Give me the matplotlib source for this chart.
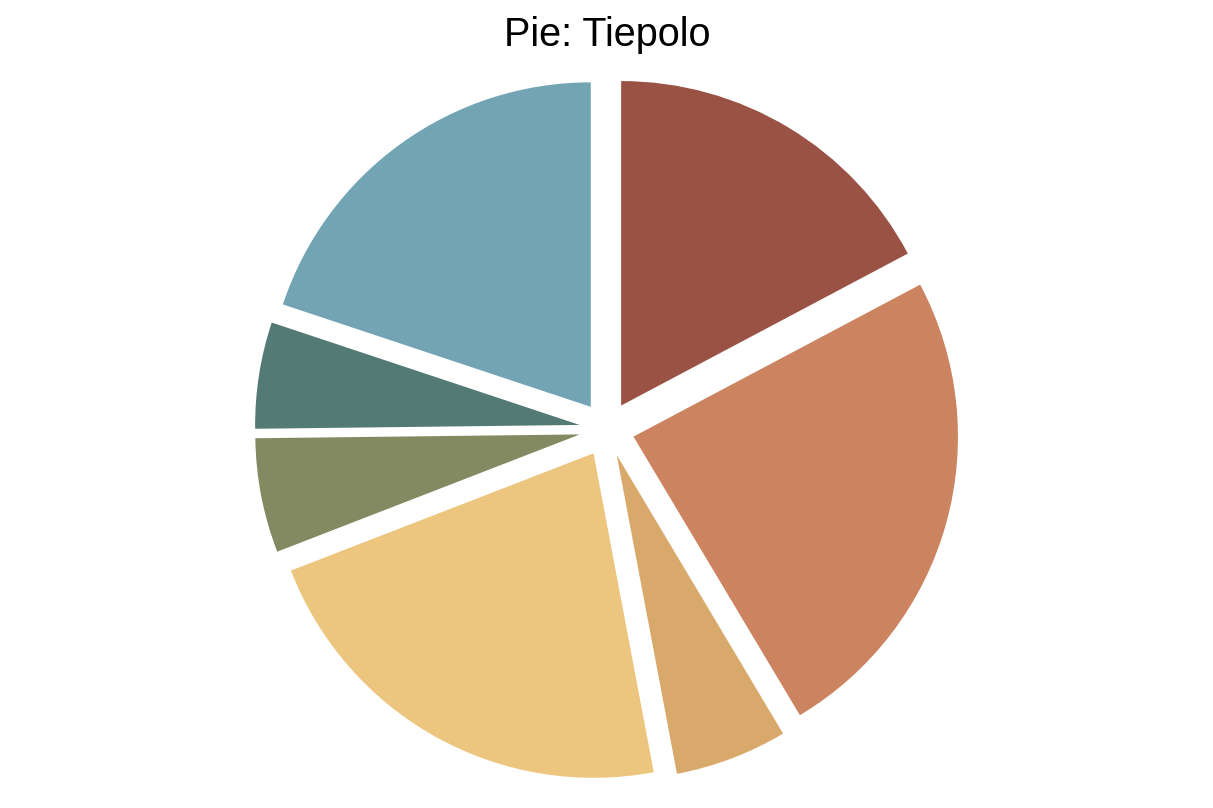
import matplotlib
matplotlib.use("Agg")
import matplotlib.pyplot as plt

# Data (percent shares, clockwise from 12 o'clock)
labels = ["A", "B", "C", "D", "E", "F", "G"]
values = [17.25, 24.2, 5.6, 22.1, 5.7, 5.3, 19.9]
colors = ["#9A5245", "#CB845F", "#D9A96B", "#ECC67F", "#838A61", "#537A74", "#73A4B4"]
explode_frac = 0.085

W, H, DPI = 1213, 808, 100
fig = plt.figure(figsize=(W / DPI, H / DPI), dpi=DPI)
ax = fig.add_axes([0, 0, 1, 1])

ax.pie(values, colors=colors, startangle=90, counterclock=False,
       explode=[explode_frac] * len(values), radius=1,
       wedgeprops=dict(linewidth=0))

# pixel mapping: radius ~324.5 px, centre at (606.9, 429.2) from top-left
r_px, cx, cy = 324.5, 606.9, 429.2
ax.set_aspect("auto")
ax.set_xlim(-cx / r_px, (W - cx) / r_px)
ax.set_ylim(-(H - cy) / r_px, cy / r_px)
ax.axis("off")

fig.text(607 / W, 1 - 45.5 / H, "Pie: Tiepolo", ha="center", va="baseline",
         fontsize=28.5, family=["Liberation Sans", "DejaVu Sans"], color="black")

fig.savefig("out.png", dpi=DPI)
